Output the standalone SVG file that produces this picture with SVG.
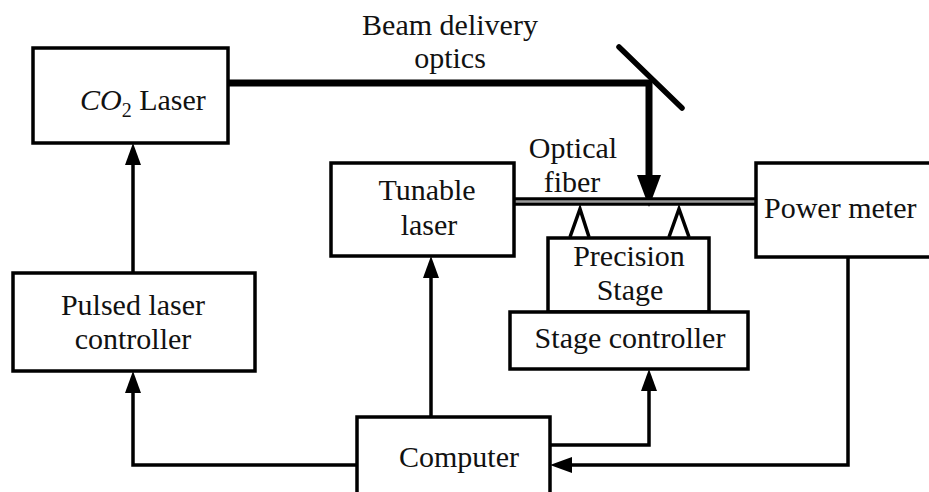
<svg xmlns="http://www.w3.org/2000/svg" width="929" height="492" viewBox="0 0 929 492">
<defs>
<style>
.box{fill:#fff;stroke:#000;stroke-width:3.5}
.ln{fill:none;stroke:#000;stroke-width:3.5}
text{font-family:'Liberation Serif',Tinos,'Times New Roman','DejaVu Serif',serif;font-size:30px;fill:#111}
.c{text-anchor:middle}
</style>
<marker id="ah" markerUnits="userSpaceOnUse" markerWidth="24" markerHeight="18" refX="12" refY="8" orient="auto">
<path d="M0,0 L22,8 L0,16 z" fill="#000"/>
</marker>
<marker id="bh" markerUnits="userSpaceOnUse" markerWidth="34" markerHeight="26" refX="12" refY="12" orient="auto">
<path d="M0,0 L32,12 L0,24 z" fill="#000"/>
</marker>
</defs>
<rect width="929" height="492" fill="#fff"/>

<g id="connectors">
<line class="ln" x1="133" y1="273" x2="133" y2="153" marker-end="url(#ah)"/>
<polyline class="ln" points="357,465 133,465 133,381" marker-end="url(#ah)"/>
<line class="ln" x1="431" y1="417" x2="431" y2="266" marker-end="url(#ah)"/>
<polyline class="ln" points="550,445 649,445 649,379" marker-end="url(#ah)"/>
<polyline class="ln" points="848,257 848,465 560,465" marker-end="url(#ah)"/>
<polyline fill="none" stroke="#000" stroke-width="7" points="228,83 649,83 649,187" marker-end="url(#bh)"/>
<line x1="514" y1="201.5" x2="756" y2="201.5" stroke="#000" stroke-width="8.5"/>
<line x1="514" y1="201.5" x2="756" y2="201.5" stroke="#9a9a9a" stroke-width="2.5"/>
</g>

<g id="mirror">
<line x1="619" y1="47" x2="682" y2="108" stroke="#000" stroke-width="5.5" stroke-linecap="round"/>
</g>

<g id="co2-laser">
<rect class="box" x="33" y="48" width="195" height="95"/>
<text x="80" y="110"><tspan font-style="italic">CO</tspan><tspan font-size="20" dy="7">2</tspan><tspan dy="-7"> Laser</tspan></text>
</g>

<g id="beam-label">
<text class="c" x="450" y="35">Beam delivery</text>
<text class="c" x="450" y="68">optics</text>
</g>

<g id="fiber-label">
<text class="c" x="573" y="158">Optical</text>
<text class="c" x="572" y="192">fiber</text>
</g>

<g id="pulsed-controller">
<rect class="box" x="13" y="273" width="242" height="98"/>
<text class="c" x="133" y="315">Pulsed laser</text>
<text class="c" x="133" y="349">controller</text>
</g>

<g id="tunable-laser">
<rect class="box" x="331" y="163" width="183" height="93"/>
<text class="c" x="427" y="200">Tunable</text>
<text class="c" x="429" y="235">laser</text>
</g>

<g id="power-meter">
<rect class="box" x="756" y="163" width="185" height="94"/>
<text x="764" y="218">Power meter</text>
</g>

<g id="precision-stage">
<polyline class="ln" points="570,237 580,209 589,237"/>
<polyline class="ln" points="669,237 679,209 689,237"/>
<rect class="box" x="548" y="238" width="161" height="74"/>
<text class="c" x="629" y="266">Precision</text>
<text class="c" x="630" y="300">Stage</text>
</g>

<g id="stage-controller">
<rect class="box" x="510" y="312" width="238" height="57"/>
<text class="c" x="630" y="348">Stage controller</text>
</g>

<g id="computer">
<rect class="box" x="357" y="417" width="193" height="90"/>
<text x="399" y="467">Computer</text>
</g>
</svg>
